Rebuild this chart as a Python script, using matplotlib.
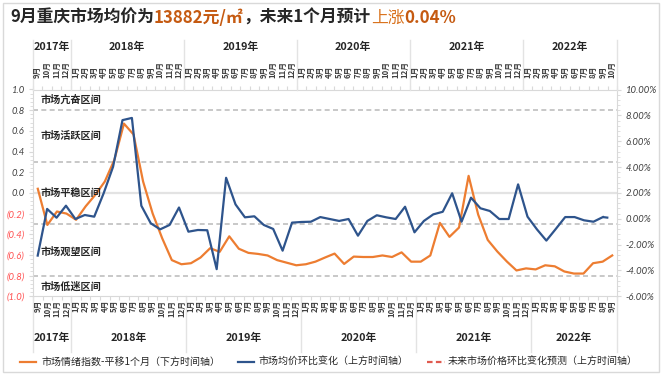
import numpy as np
import matplotlib
matplotlib.use("Agg")
import matplotlib.pyplot as plt
from matplotlib.lines import Line2D
from matplotlib.patches import Rectangle
from matplotlib.ticker import AutoMinorLocator, FixedLocator

plt.rcParams['font.family'] = ['Noto Sans CJK SC', 'DejaVu Sans']

# ---------------------------------------------------------
# DATA
# ---------------------------------------------------------
# bottom time axis: 2017-09 .. 2022-09 (sentiment index, shifted 1 month)
bottom_months = [(2017, m) for m in range(9, 13)] + \
                [(y, m) for y in range(2018, 2022) for m in range(1, 13)] + \
                [(2022, m) for m in range(1, 10)]
sentiment = [0.04, -0.31, -0.18, -0.20, -0.26, -0.13, -0.02, 0.11, 0.32, 0.67,
             0.565, 0.11, -0.20, -0.44, -0.65, -0.69, -0.68, -0.625, -0.535, -0.57,
             -0.42, -0.54, -0.58, -0.59, -0.605, -0.65, -0.675, -0.70, -0.69, -0.665,
             -0.625, -0.587, -0.687, -0.616, -0.62, -0.62, -0.605, -0.62, -0.575, -0.665,
             -0.665, -0.605, -0.29, -0.425, -0.335, 0.165, -0.21, -0.455, -0.567, -0.664,
             -0.75, -0.73, -0.74, -0.70, -0.71, -0.76, -0.78, -0.78, -0.68, -0.665,
             -0.605]

# top time axis: 2017-09 .. 2022-10 (price month-on-month %, last value = forecast)
top_months = bottom_months + [(2022, 10)]
price_mom = [-2.85, 0.76, 0.08, 1.01, -0.02, 0.29, 0.16, 1.97, 4.02, 7.63,
             7.80, 1.01, -0.35, -0.82, -0.48, 0.87, -1.00, -0.87, -0.89, -3.90,
             3.17, 1.11, 0.11, 0.19, -0.48, -0.79, -2.47, -0.30, -0.25, -0.23,
             0.13, -0.02, -0.17, -0.02, -1.31, -0.17, 0.27, 0.11, -0.02, 0.93,
             -1.05, -0.17, 0.34, 0.54, 1.97, -0.23, 1.63, 0.81, 0.60, -0.02,
             -0.02, 2.66, 0.16, -0.82, -1.69, -0.79, 0.13, 0.13, -0.12, -0.23,
             0.13, 0.04]

zone_levels = [0.8, 0.3, -0.3, -0.8]
zone_names = ["市场亢奋区间", "市场活跃区间", "市场平稳区间", "市场观望区间", "市场低迷区间"]
zone_text_y = [0.90, 0.55, 0.0, -0.57, -0.91]

left_ticks = [-1.0, -0.8, -0.6, -0.4, -0.2, 0.0, 0.2, 0.4, 0.6, 0.8, 1.0]
right_ticks = [-6, -4, -2, 0, 2, 4, 6, 8, 10]

title_parts = [("9月重庆市场均价为", "#262626", "bold"),
               ("13882元/㎡", "#C55A11", "bold"),
               ("，未来1个月预计", "#262626", "bold"),
               ("上涨", "#D9731F", "normal"),
               ("0.04%", "#C55A11", "bold")]

ORANGE = "#ED7D31"
BLUE = "#2E548C"
RED = "#E05A4F"
GRID = "#D9D9D9"

# ---------------------------------------------------------
# LAYOUT (pixel helpers)
# ---------------------------------------------------------
W, H = 663, 379
X0, X1 = 33, 617
Y_TOP, Y_BOT = 89.5, 296.3


def ay(py):
    return (Y_BOT - py) / (Y_BOT - Y_TOP)


fig = plt.figure(figsize=(W / 100, H / 100), dpi=100)
fig.patch.set_facecolor("white")
fig.patches.append(Rectangle((2.5 / W, 1 - 372 / H), 656 / W, 369 / H,
                             transform=fig.transFigure, fill=False,
                             edgecolor="#D9D9D9", lw=1))

rect = [X0 / W, 1 - Y_BOT / H, (X1 - X0) / W, (Y_BOT - Y_TOP) / H]
ax = fig.add_axes(rect)
ax2 = fig.add_axes(rect, frameon=False)

# ---- bottom / left axes: sentiment ----
nb = len(bottom_months)
xb = np.arange(nb) + 0.5
ax.set_xlim(0, nb)
ax.set_ylim(-1.0, 1.0)
for lv in zone_levels:
    ax.axhline(lv, color="#BFBFBF", lw=1.2, ls=(0, (3, 2)), zorder=1)
ax.axhline(0, color="#E3E3E3", lw=1.6, zorder=1)
ax.plot(xb, sentiment, color=ORANGE, lw=1.6, zorder=3)

for name, yv in zip(zone_names, zone_text_y):
    ax.text(0.013, yv, name, transform=ax.get_yaxis_transform(), fontsize=7.3,
            fontweight="bold", color="#262626", ha="left", va="center", zorder=5)

for s in ax.spines.values():
    s.set_color(GRID)
ax.set_xticks(np.arange(0, nb + 1))
ax.set_xticklabels([])
ax.tick_params(axis="x", direction="out", length=3, color=GRID)
ax.yaxis.set_major_locator(FixedLocator(left_ticks))
ax.yaxis.set_minor_locator(AutoMinorLocator(5))
ax.set_yticklabels([f"{v:.1f}" if v >= -1e-9 else f"({abs(v):.1f})" for v in left_ticks])
ax.tick_params(axis="y", which="major", direction="out", length=3, color=GRID,
               pad=3, labelsize=6.8)
ax.tick_params(axis="y", which="minor", direction="out", length=2, color=GRID)
for lab, v in zip(ax.get_yticklabels(), left_ticks):
    lab.set_family(["Lato", "DejaVu Sans"])
    lab.set_style("italic")
    lab.set_color("#FF5050" if v < -1e-9 else "#404040")

# ---- top / right axes: price MoM ----
nt = len(top_months)
xt = np.arange(nt) + 0.5
ax2.set_xlim(0, nt)
ax2.set_ylim(-6, 10)
ax2.plot(xt[:-1], price_mom[:-1], color=BLUE, lw=1.6, zorder=4)
ax2.plot(xt[-2:], price_mom[-2:], color=BLUE, lw=1.6, ls=(0, (2.5, 2)), zorder=4)
ax2.xaxis.set_ticks_position("top")
ax2.set_xticks(np.arange(0, nt + 1))
ax2.set_xticklabels([])
ax2.tick_params(axis="x", direction="out", length=3, color=GRID)
ax2.yaxis.tick_right()
ax2.yaxis.set_major_locator(FixedLocator(right_ticks))
ax2.yaxis.set_minor_locator(AutoMinorLocator(5))
ax2.set_yticklabels([f"{v:.2f}%" for v in right_ticks])
ax2.tick_params(axis="y", which="major", direction="out", length=3, color=GRID,
                pad=3, labelsize=6.8, labelcolor="#404040")
ax2.tick_params(axis="y", which="minor", direction="out", length=2, color=GRID)
for lab in ax2.get_yticklabels():
    lab.set_family(["Lato", "DejaVu Sans"])
    lab.set_style("italic")


# ---- multi-level category labels ----
def year_groups(months):
    starts = [i for i, (y, m) in enumerate(months) if i == 0 or m == 1]
    bounds = starts + [len(months)]
    return [(months[s][0], s, e) for s, e in zip(bounds[:-1], bounds[1:])], bounds


for axx, months, y_month, va_m, y_year, y_sep in [
        (ax2, top_months, ay(78), "bottom", ay(47), (1.0, ay(40))),
        (ax, bottom_months, ay(300), "top", ay(338), (0.0, ay(352)))]:
    tr = axx.get_xaxis_transform()
    for i, (y, m) in enumerate(months):
        axx.text(i + 0.5, y_month, f"{m}月", transform=tr, rotation=90,
                 ha="center", va=va_m, fontsize=5.6, fontweight="bold",
                 color="#404040", clip_on=False)
    groups, bounds = year_groups(months)
    for yr, s, e in groups:
        axx.text((s + e) / 2, y_year, f"{yr}年", transform=tr, ha="center",
                 va="center", fontsize=7.8, fontweight="bold", color="#262626",
                 clip_on=False)
    for b in bounds:
        axx.add_line(Line2D([b, b], list(y_sep), transform=tr, color="#E3E3E3",
                            lw=1, clip_on=False))

# ---- legend (drawn at pixel positions) ----
ly = 1 - 362 / H
leg = [(20, 36, ORANGE, "-", 41, "市场情绪指数-平移1个月（下方时间轴）"),
       (238, 254, BLUE, "-", 258, "市场均价环比变化（上方时间轴）"),
       (427, 445, RED, (0, (2.5, 1.5)), 448, "未来市场价格环比变化预测（上方时间轴）")]
for xa, xb_, col, ls, xt_, txt in leg:
    fig.add_artist(Line2D([xa / W, xb_ / W], [ly, ly], transform=fig.transFigure,
                          color=col, lw=1.6, ls=ls))
    fig.text(xt_ / W, ly, txt, fontsize=7.2, color="#262626", ha="left", va="center")

# ---- title with coloured parts ----
fig.canvas.draw()
renderer = fig.canvas.get_renderer()
tx = 10 / W
for s, c, w in title_parts:
    t = fig.text(tx, 1 - 18 / H, s, color=c, fontweight=w, fontsize=12.1,
                 ha="left", va="center")
    tx = t.get_window_extent(renderer=renderer).x1 / W

fig.savefig("out.png", dpi=100)
